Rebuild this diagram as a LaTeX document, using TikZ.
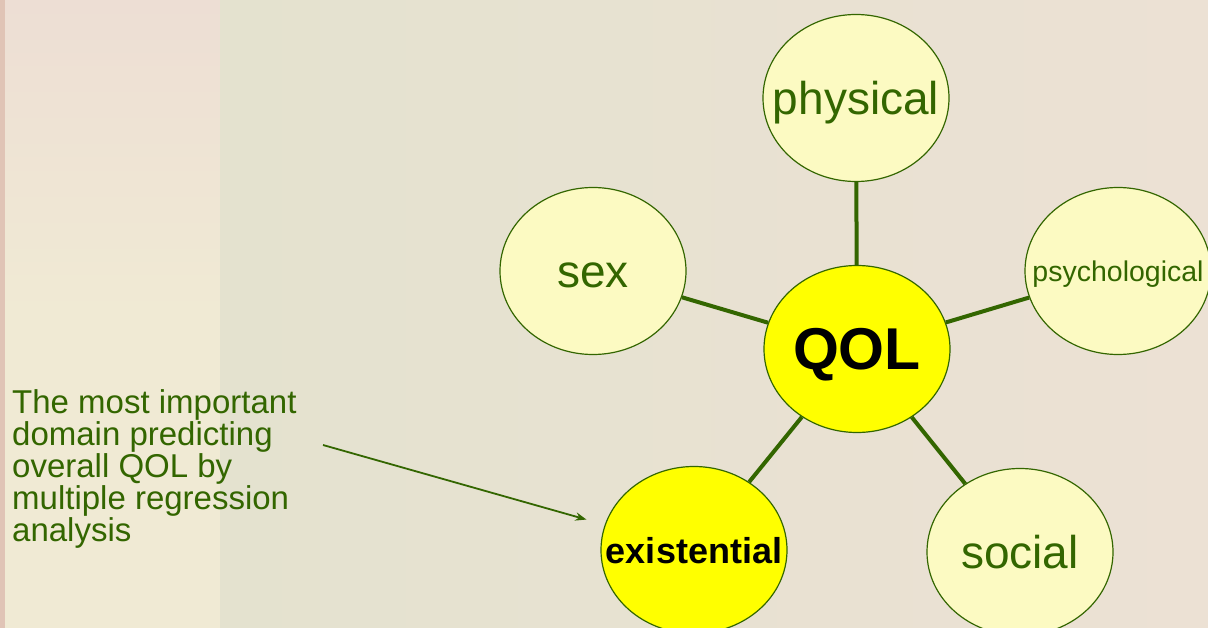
\documentclass[tikz,border=0pt]{standalone}
\usepackage{fontspec}
\setmainfont{Liberation Sans}
\usetikzlibrary{arrows.meta, shapes.geometric}
\definecolor{domainfill}{RGB}{252,250,194}
\definecolor{corefill}{RGB}{255,255,0}
\definecolor{leafgreen}{RGB}{51,102,0}
\definecolor{bgrose}{RGB}{224,196,182}
\definecolor{bgpink}{RGB}{237,222,212}
\definecolor{bgcream}{RGB}{240,234,212}
\definecolor{bgsage}{RGB}{221,223,200}
\definecolor{bgmist}{RGB}{228,226,207}
\definecolor{bgwarm}{RGB}{236,225,212}
\newcommand{\centrelabel}[1]{\makebox[0pt][c]{#1}}

\begin{document}
\begin{tikzpicture}[
                        x=1pt, y=-1pt,
                        >=Stealth,
                        domainnode/.style={
                                ellipse, draw=leafgreen, line width=1.2pt,
                                fill=domainfill, text=leafgreen,
                                minimum width=186pt, minimum height=167pt,
                                inner sep=0pt, text height=33pt, text depth=0pt,
                                font=\fontsize{46}{46}\selectfont
                            },
                        corenode/.style={domainnode, fill=corefill, text=black},
                        link/.style={draw=leafgreen, line width=4pt},
                        pointer/.style={->, draw=leafgreen, line width=1.8pt}
                    ]

                    % ===== Background =====
                    \useasboundingbox (0,0) rectangle (1208,628);
                    \clip (0,0) rectangle (1208,628);
                    \shade[top color=bgpink, bottom color=bgcream, middle color=bgcream] (0,0) rectangle (220,628);
                    \shade[left color=bgmist, middle color=bgsage, right color=bgwarm] (220,0) rectangle (1208,628);
                    \fill[bgrose] (0,0) rectangle (5,628);

                    % ===== Domains =====
                    \node[corenode, text height=42pt, font=\fontsize{59}{59}\selectfont\bfseries] (qol) at (857,349) {\centrelabel{QOL}};
                    \node[domainnode] (physical) at (856,98) {\centrelabel{physical}};
                    \node[domainnode, text height=21pt, font=\fontsize{28.5}{28.5}\selectfont] (psychological) at (1118,271) {\centrelabel{psychological}};
                    \node[domainnode] (sex) at (593,271) {\centrelabel{sex}};
                    \node[domainnode, text height=32pt] (social) at (1020,552) {\centrelabel{social}};
                    \node[corenode, text height=26pt, font=\fontsize{36}{36}\selectfont\bfseries] (existential) at (694,550) {\centrelabel{existential}};

                    % ===== Links =====
                    \foreach \d in {physical, psychological, sex, social, existential}
                        \draw[link] (qol) -- (\d);

                    % ===== Note =====
                    \node[anchor=north west, align=left, inner sep=0pt, text=leafgreen,
                    font=\fontsize{33}{32}\selectfont] (note) at (12,389) {
                    The most important\\domain predicting\\overall QOL by\\multiple regression\\analysis
                    };
                    \coordinate (notetail) at (323,445);
                    \draw[pointer, shorten >=19pt] (notetail) -- (existential);

                \end{tikzpicture}
\end{document}
